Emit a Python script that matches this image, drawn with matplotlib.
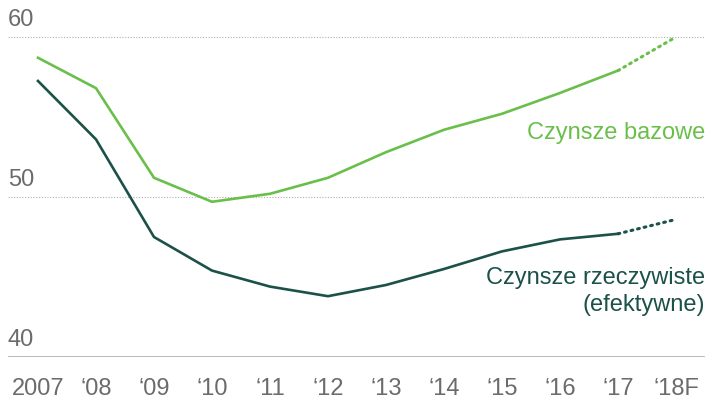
import matplotlib.pyplot as plt

years = ['2007', '\u201808', '\u201809', '\u201810', '\u201811', '\u201812', '\u201813',
         '\u201814', '\u201815', '\u201816', '\u201817', '\u201818F']
bazowe = [58.7, 56.8, 51.2, 49.7, 50.2, 51.2, 52.8, 54.2, 55.2, 56.5, 57.9, 60.0]
rzeczywiste = [57.25, 53.6, 47.5, 45.4, 44.4, 43.8, 44.5, 45.5, 46.6, 47.35, 47.7, 48.6]
yticks = [40, 50, 60]

LIGHT = '#6abf4b'
DARK = '#1b5148'
GREY = '#6b6b6b'
FS = 17

plt.rcParams['font.family'] = ['Liberation Sans', 'DejaVu Sans']

fig = plt.figure(figsize=(7.07, 4.0), dpi=100)
ax = fig.add_axes([8 / 707, 43 / 400, 697 / 707, 337 / 400])

x = list(range(len(years)))
n = len(years) - 1  # last point is a forecast, drawn dotted

for vals, col in [(bazowe, LIGHT), (rzeczywiste, DARK)]:
    ax.plot(x[:n], vals[:n], color=col, lw=1.9, solid_joinstyle='round')
    ax.plot(x[n - 1:], vals[n - 1:], color=col, lw=2.2, ls=(0, (0.6, 1.6)),
            dash_capstyle='round')

for v in yticks[1:]:
    ax.axhline(v, color='#b0b0b0', lw=0.8, ls=(0, (1, 1.5)), zorder=0)
ax.axhline(yticks[0], color='#a8a8a8', lw=1.1, zorder=0)

for v in yticks:
    ax.text(-0.517, v + 0.35, str(v), color=GREY, fontsize=FS,
            ha='left', va='bottom')

for i, lab in enumerate(years):
    ax.text(i, 38.0, lab, color=GREY, fontsize=FS, ha='center', va='center')

ax.text(11.5, 54.0, 'Czynsze bazowe', color=LIGHT, fontsize=FS,
        ha='right', va='center')
ax.text(11.5, 44.1, 'Czynsze rzeczywiste\n(efektywne)', color=DARK,
        fontsize=FS, ha='right', va='center', linespacing=1.25)

ax.set_xlim(-0.517, 11.5)
ax.set_ylim(40, 61.06)
ax.axis('off')

fig.savefig('out.png', dpi=100)
